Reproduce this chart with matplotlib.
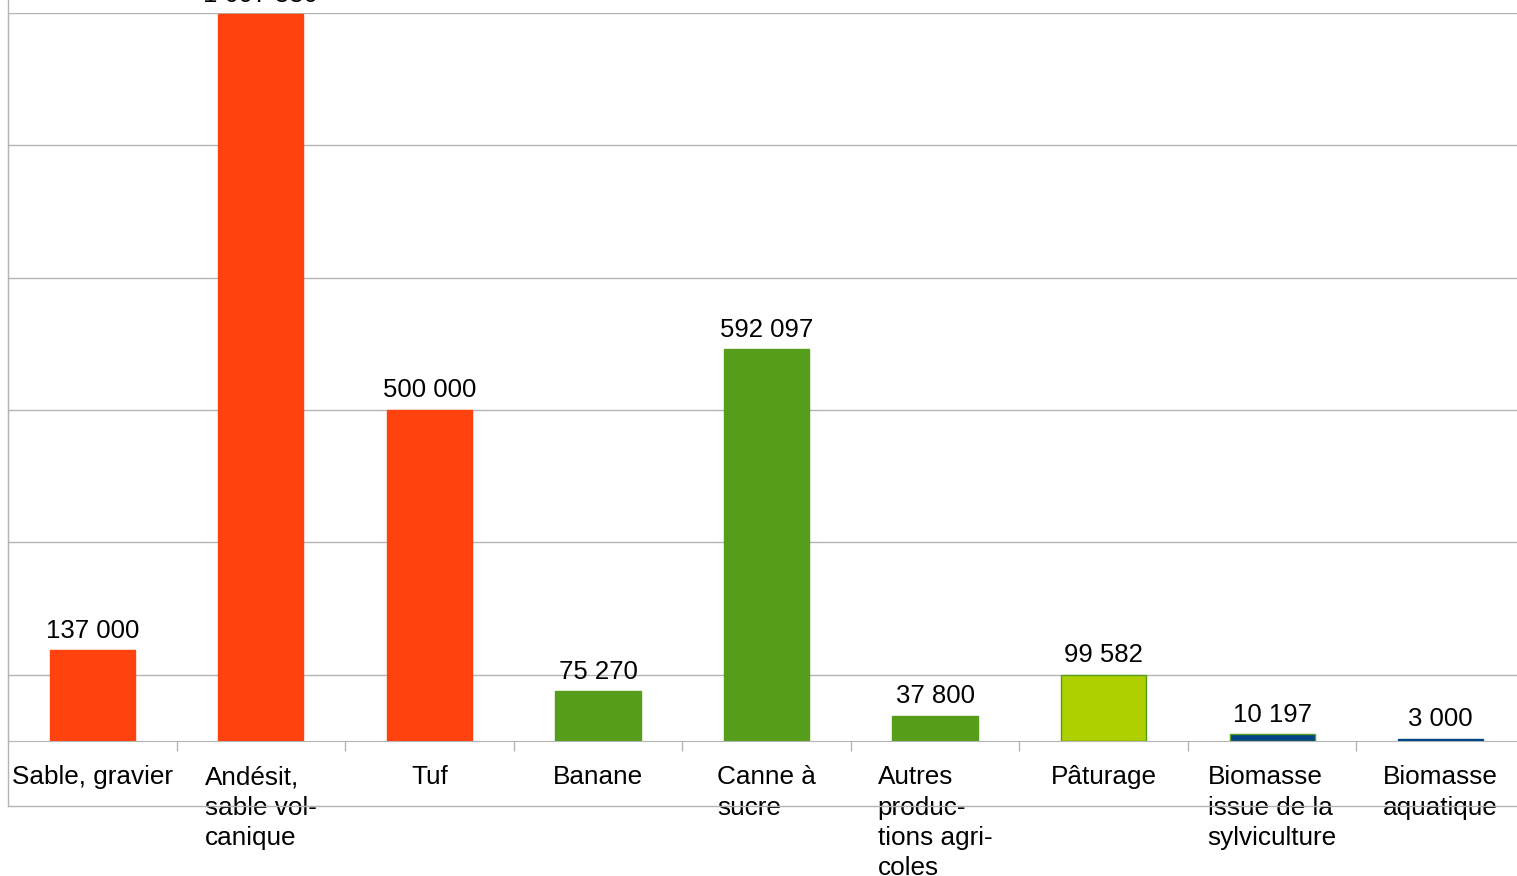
import numpy as np
import matplotlib.pyplot as plt
from matplotlib.lines import Line2D

categories = ["Sable, gravier", "Andésit,\nsable vol-\ncanique", "Tuf", "Banane",
              "Canne à\nsucre", "Autres\nproduc-\ntions agri-\ncoles", "Pâturage",
              "Biomasse\nissue de la\nsylviculture", "Biomasse\naquatique"]
values = [137000, 1097880, 500000, 75270, 592097, 37800, 99582, 10197, 3000]
value_labels = ["137 000", "1 097 880", "500 000", "75 270", "592 097",
                "37 800", "99 582", "10 197", "3 000"]
fill_colors = ["#ff420e", "#ff420e", "#ff420e", "#579d1c", "#579d1c",
               "#579d1c", "#aecf00", "#004586", "#004586"]
edge_colors = ["#ff420e", "#ff420e", "#ff420e", "#579d1c", "#579d1c",
               "#579d1c", "#579d1c", "#579d1c", "#004586"]
grid_values = [100000, 300000, 500000, 700000, 900000, 1100000]

plt.rcParams['font.family'] = ['Liberation Sans', 'DejaVu Sans']

W, H = 1517, 876
fig = plt.figure(figsize=(W / 100, H / 100), dpi=100)
# zone du graphique en pixels
left, right, top, bottom = 8, 1525, 13, 741
ax = fig.add_axes([left / W, (H - bottom) / H, (right - left) / W, (bottom - top) / H])

x = np.arange(len(categories))
ax.bar(x, values, width=0.505, color=fill_colors, edgecolor=edge_colors,
       linewidth=1, zorder=3)

ax.set_xlim(-0.5, len(categories) - 0.5)
ax.set_ylim(0, 1100000)

ax.set_yticks(grid_values)
ax.set_yticklabels([])
ax.tick_params(axis='y', length=0)
ax.grid(axis='y', color='#b3b3b3', linewidth=1, zorder=0)

ax.set_xticks(x)
ax.set_xticklabels([])
ax.tick_params(axis='x', which='major', length=0)
ax.set_xticks(np.arange(0.5, len(categories) - 0.5), minor=True)
ax.tick_params(axis='x', which='minor', length=7.5, color='#b3b3b3', width=1)

for s in ['top', 'right']:
    ax.spines[s].set_visible(False)
ax.spines['left'].set_color('#b3b3b3')
ax.spines['bottom'].set_color('#b3b3b3')

for i, (v, lab) in enumerate(zip(values, value_labels)):
    ax.annotate(lab, (i, v), xytext=(0, 5.5), textcoords='offset points',
                ha='center', va='bottom', fontsize=18.5, clip_on=False,
                annotation_clip=False)

for i, cat in enumerate(categories):
    ax.annotate(cat, (i, 0), xytext=(0, -17.5), textcoords='offset points',
                ha='center', va='top', multialignment='left', fontsize=18.8,
                linespacing=1.33, annotation_clip=False)

# cadre extérieur
fig.add_artist(Line2D([left / W, left / W], [(H - 806) / H, 1], color='#b3b3b3', lw=1))
fig.add_artist(Line2D([left / W, 1], [(H - 806) / H, (H - 806) / H], color='#b3b3b3', lw=1))

fig.savefig("out.png", dpi=100)
